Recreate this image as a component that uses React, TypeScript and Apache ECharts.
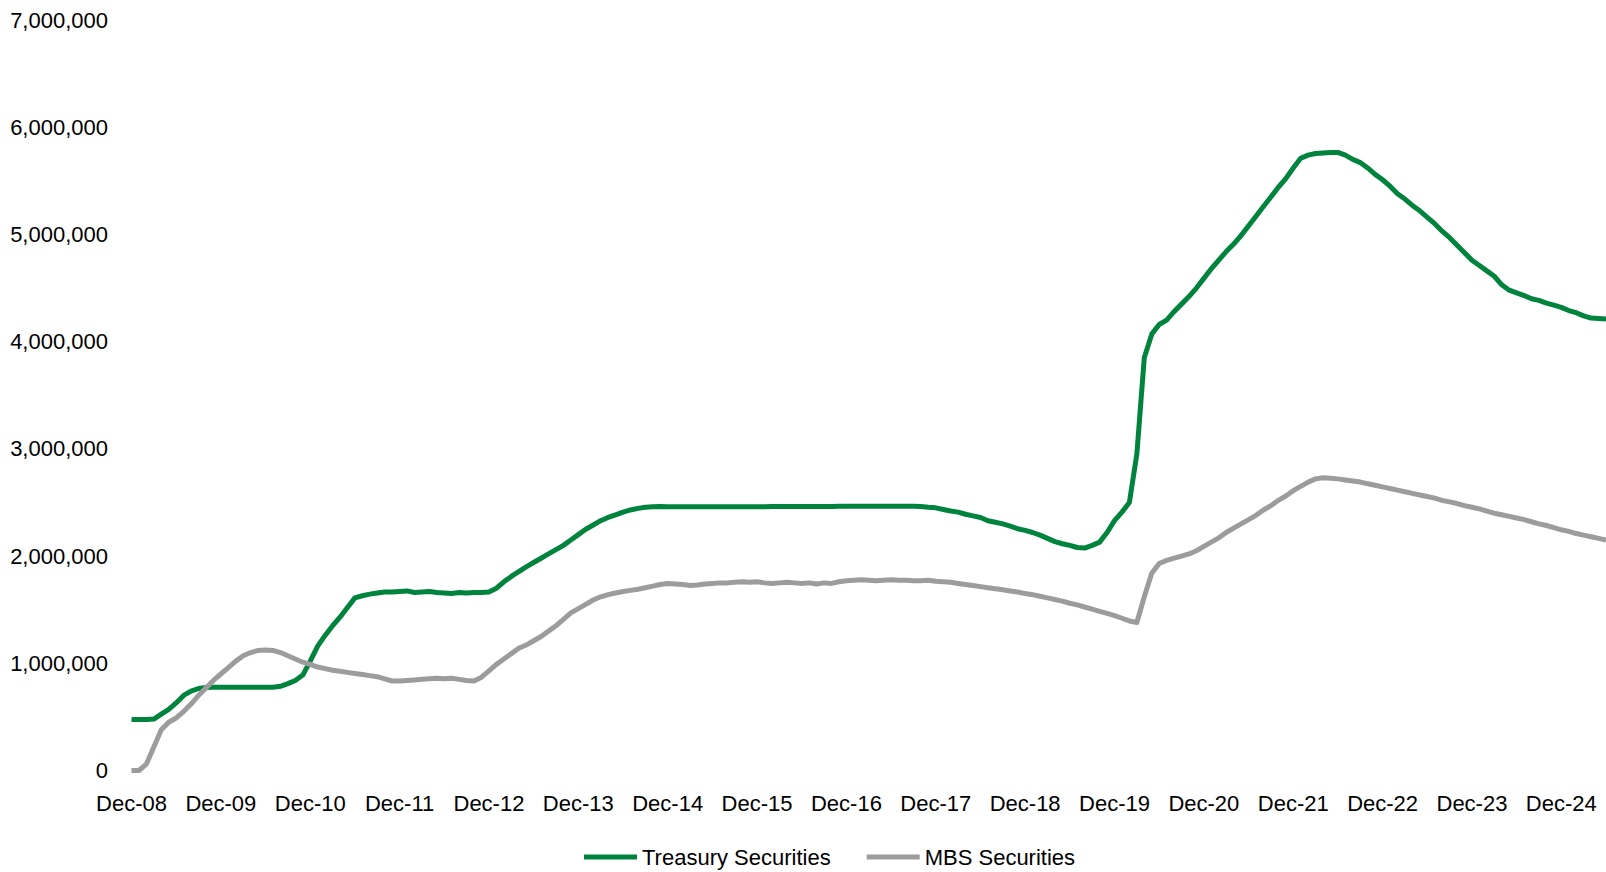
import React, { useEffect, useRef } from "react";
import * as echarts from "echarts";

// Monthly month-end holdings, Dec-08 .. Jun-25 (USD millions)
const START_YEAR = 2008;
const START_MONTH = 11; // December (0-based)
const MONTH_NAMES = ["Jan", "Feb", "Mar", "Apr", "May", "Jun", "Jul", "Aug", "Sep", "Oct", "Nov", "Dec"];

const treasury = [
  476000, 475000, 475000, 480000, 525000, 570000, 630000, 700000, 740000, 765000, 775000, 777000,
  777000, 777000, 777000, 777000, 777000, 777000, 777000, 777000, 785000, 810000, 840000, 890000,
  1020000, 1160000, 1260000, 1350000, 1430000, 1520000, 1610000, 1630000, 1645000, 1655000, 1665000, 1665000,
  1670000, 1675000, 1660000, 1665000, 1670000, 1660000, 1655000, 1650000, 1660000, 1655000, 1660000, 1660000,
  1665000, 1700000, 1760000, 1810000, 1855000, 1900000, 1940000, 1980000, 2020000, 2060000, 2100000, 2150000,
  2200000, 2250000, 2290000, 2330000, 2360000, 2385000, 2410000, 2430000, 2445000, 2455000, 2460000, 2462000,
  2461000, 2460000, 2461000, 2461000, 2460000, 2461000, 2461000, 2461000, 2461000, 2461000, 2461000, 2461000,
  2461000, 2461000, 2462000, 2462000, 2462000, 2462000, 2463000, 2463000, 2463000, 2463000, 2463000, 2464000,
  2464000, 2464000, 2465000, 2465000, 2465000, 2465000, 2465000, 2465000, 2465000, 2464000, 2462000, 2455000,
  2450000, 2435000, 2420000, 2410000, 2390000, 2375000, 2360000, 2330000, 2315000, 2300000, 2280000, 2255000,
  2240000, 2220000, 2195000, 2165000, 2135000, 2115000, 2100000, 2080000, 2075000, 2100000, 2130000, 2220000,
  2330000, 2410000, 2500000, 2950000, 3850000, 4070000, 4160000, 4200000, 4280000, 4350000, 4420000, 4500000,
  4590000, 4680000, 4760000, 4840000, 4910000, 4990000, 5080000, 5170000, 5260000, 5350000, 5440000, 5520000,
  5620000, 5710000, 5740000, 5755000, 5760000, 5765000, 5765000, 5740000, 5700000, 5670000, 5620000, 5560000,
  5510000, 5450000, 5380000, 5330000, 5270000, 5220000, 5160000, 5100000, 5030000, 4970000, 4900000, 4830000,
  4760000, 4710000, 4660000, 4610000, 4530000, 4480000, 4455000, 4430000, 4400000, 4385000, 4360000, 4340000,
  4320000, 4290000, 4270000, 4240000, 4220000, 4215000, 4210000,
];

const mbs = [
  0, 0, 60000, 220000, 380000, 450000, 490000, 550000, 620000, 700000, 770000, 840000,
  900000, 960000, 1020000, 1070000, 1100000, 1120000, 1125000, 1120000, 1100000, 1070000, 1040000, 1010000,
  990000, 965000, 950000, 935000, 925000, 915000, 905000, 895000, 885000, 875000, 855000, 835000,
  835000, 840000, 845000, 850000, 855000, 860000, 855000, 860000, 850000, 840000, 835000, 870000,
  930000, 990000, 1040000, 1090000, 1140000, 1170000, 1210000, 1250000, 1300000, 1350000, 1410000, 1470000,
  1510000, 1550000, 1590000, 1620000, 1640000, 1655000, 1670000, 1680000, 1690000, 1705000, 1720000, 1735000,
  1745000, 1740000, 1735000, 1725000, 1730000, 1740000, 1745000, 1750000, 1750000, 1755000, 1760000, 1755000,
  1760000, 1750000, 1745000, 1750000, 1755000, 1750000, 1745000, 1750000, 1740000, 1750000, 1745000, 1760000,
  1770000, 1775000, 1780000, 1775000, 1770000, 1775000, 1780000, 1775000, 1775000, 1770000, 1770000, 1775000,
  1765000, 1760000, 1755000, 1745000, 1735000, 1725000, 1715000, 1705000, 1695000, 1685000, 1675000, 1665000,
  1650000, 1640000, 1625000, 1610000, 1595000, 1580000, 1560000, 1545000, 1525000, 1505000, 1485000, 1465000,
  1445000, 1420000, 1395000, 1380000, 1620000, 1840000, 1930000, 1960000, 1980000, 2000000, 2020000, 2050000,
  2090000, 2130000, 2170000, 2220000, 2260000, 2300000, 2340000, 2380000, 2430000, 2470000, 2520000, 2560000,
  2610000, 2650000, 2690000, 2720000, 2730000, 2725000, 2720000, 2710000, 2700000, 2690000, 2675000, 2660000,
  2645000, 2630000, 2615000, 2600000, 2585000, 2570000, 2555000, 2540000, 2520000, 2505000, 2490000, 2470000,
  2455000, 2440000, 2420000, 2400000, 2385000, 2370000, 2355000, 2340000, 2320000, 2300000, 2285000, 2265000,
  2245000, 2230000, 2210000, 2195000, 2180000, 2165000, 2150000,
];

const categories = treasury.map((_, i) => {
  const t = START_MONTH + i;
  const y = START_YEAR + Math.floor(t / 12);
  return `${MONTH_NAMES[t % 12]}-${String(y % 100).padStart(2, "0")}`;
});

const Y_MIN = 0;
const Y_MAX = 7000000;
const Y_STEP = 1000000;

const FONT = "'Liberation Sans Narrow', 'Arial Narrow', 'Liberation Sans', Arial, sans-serif";
const FS = 22;

export default function App() {
  const ref = useRef<HTMLDivElement>(null);
  useEffect(() => {
    if (!ref.current) return;
    const chart = echarts.init(ref.current, undefined, { renderer: "svg" });
    chart.setOption({
      animation: false,
      backgroundColor: "#ffffff",
      textStyle: { fontFamily: FONT },
      grid: { left: 131.5, right: 0, top: 20, bottom: 101.5, containLabel: false },
      legend: {
        left: 584,
        top: 845,
        padding: 0,
        icon: "rect",
        itemWidth: 53,
        itemHeight: 5,
        itemGap: 36,
        textStyle: { fontFamily: FONT, fontSize: FS, color: "#000000", lineHeight: 24 },
        data: ["Treasury Securities", "MBS Securities"],
      },
      xAxis: {
        type: "category",
        data: categories,
        boundaryGap: false,
        axisLine: { show: false },
        axisTick: { show: false },
        splitLine: { show: false },
        axisLabel: {
          interval: (i: number) => i % 12 === 0,
          margin: 22,
          fontFamily: FONT,
          fontSize: FS,
          color: "#000000",
        },
      },
      yAxis: {
        type: "value",
        min: Y_MIN,
        max: Y_MAX,
        interval: Y_STEP,
        axisLine: { show: false },
        axisTick: { show: false },
        splitLine: { show: false },
        axisLabel: {
          margin: 23.5,
          fontFamily: FONT,
          fontSize: FS,
          color: "#000000",
          formatter: (v: number) => v.toLocaleString("en-US"),
        },
      },
      series: [
        {
          name: "Treasury Securities",
          type: "line",
          data: treasury,
          showSymbol: false,
          symbol: "none",
          color: "#00843D",
          lineStyle: { width: 5, color: "#00843D", join: "round" },
        },
        {
          name: "MBS Securities",
          type: "line",
          data: mbs,
          showSymbol: false,
          symbol: "none",
          color: "#9C9C9C",
          lineStyle: { width: 5, color: "#9C9C9C", join: "round" },
        },
      ],
    });
    return () => chart.dispose();
  }, []);
  return (
    <div
      ref={ref}
      style={{ position: "absolute", left: 0, top: 0, width: 1606, height: 872 }}
    />
  );
}
